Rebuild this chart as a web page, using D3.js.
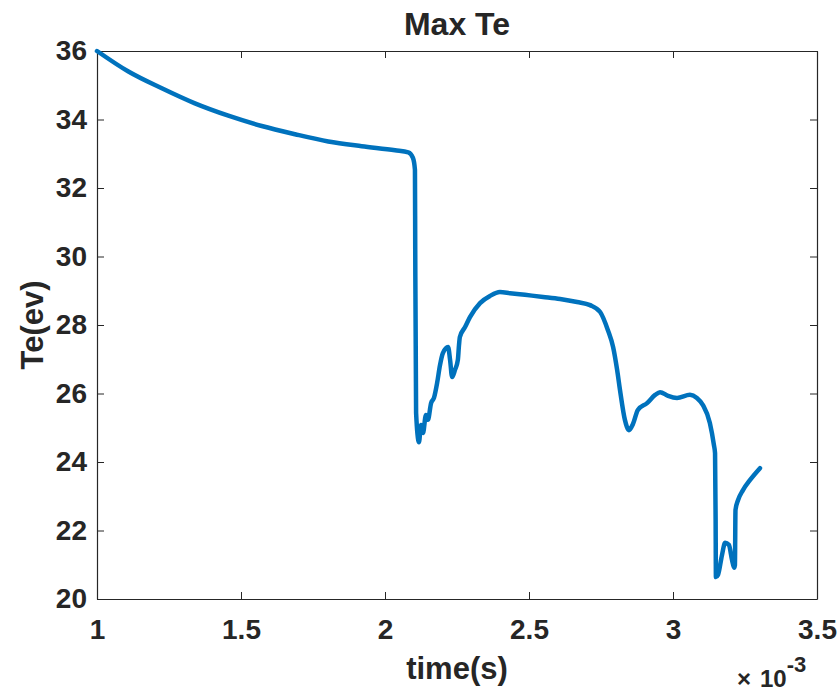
<!DOCTYPE html>
<head>
  <title>Max Te</title>
  <meta charset="utf-8">
  <script src="https://d3js.org/d3.v7.min.js"></script>
  <style>
    body { margin: 0; background: #fff; }
    text { font-family: "Liberation Sans", Arial, sans-serif; font-weight: bold; fill: #262626; }
    .axis path, .axis line { stroke: #262626; }
    .trace { fill: none; stroke: #0072BD; stroke-width: 4.5; stroke-linejoin: round; stroke-linecap: round; }
  </style>
</head>
<body>
  <div class="container"></div>
  <script>
'use strict';
var width = 838, height = 691;
var margin = { top: 51, right: 21, bottom: 92, left: 97 };

// time in units of 1e-3 s
var timeMs = [1.000, 1.109, 1.225, 1.340, 1.456, 1.572, 1.688, 1.803, 1.919, 2.035, 2.081,
  2.097, 2.104, 2.105, 2.108, 2.118, 2.125, 2.132, 2.142, 2.149, 2.160, 2.170, 2.181, 2.191,
  2.201, 2.219, 2.226, 2.233, 2.243, 2.253, 2.257, 2.260, 2.278, 2.295, 2.330, 2.365, 2.399,
  2.434, 2.486, 2.549, 2.608, 2.667, 2.712, 2.747, 2.774, 2.792, 2.806, 2.816, 2.833, 2.847,
  2.861, 2.878, 2.910, 2.938, 2.955, 2.983, 3.014, 3.059, 3.083, 3.104, 3.128, 3.142, 3.146,
  3.148, 3.149, 3.156, 3.170, 3.181, 3.194, 3.205, 3.212, 3.215, 3.217, 3.226, 3.243, 3.267, 3.302];
var teEv = [36.00, 35.40, 34.91, 34.47, 34.11, 33.81, 33.57, 33.36, 33.22, 33.10, 33.04,
  32.88, 32.53, 30.20, 25.43, 24.58, 25.08, 24.85, 25.37, 25.23, 25.72, 25.87, 26.31, 26.83,
  27.18, 27.36, 26.98, 26.48, 26.69, 26.98, 27.42, 27.65, 27.94, 28.23, 28.64, 28.85, 28.96,
  28.93, 28.88, 28.82, 28.76, 28.67, 28.58, 28.38, 27.85, 27.36, 26.69, 26.10, 25.23, 24.93,
  25.11, 25.52, 25.72, 25.96, 26.04, 25.93, 25.87, 25.96, 25.87, 25.66, 25.14, 24.50, 24.26,
  22.31, 20.64, 20.70, 21.28, 21.64, 21.58, 21.14, 20.91, 20.99, 22.60, 22.89, 23.18, 23.47, 23.82];

var xTicks = [1, 1.5, 2, 2.5, 3, 3.5];
var yTicks = [20, 22, 24, 26, 28, 30, 32, 34, 36];

var svg = d3.select('.container').append('svg')
  .attr('width', width).attr('height', height);

var x = d3.scaleLinear().domain([1, 3.5]).range([margin.left, width - margin.right]);
var y = d3.scaleLinear().domain([20, 36]).range([height - margin.bottom, margin.top]);

// axes, ticks pointing inward, box on
svg.append('g').attr('class', 'axis')
  .attr('transform', 'translate(0,' + y(20) + ')')
  .call(d3.axisBottom(x).tickValues(xTicks).tickFormat(d3.format('')).tickSizeInner(-7).tickSizeOuter(0).tickPadding(20))
  .call(function (g) { g.selectAll('text').style('font-size', '28px').attr('dy', '0.71em'); });

svg.append('g').attr('class', 'axis')
  .attr('transform', 'translate(0,' + y(36) + ')')
  .call(d3.axisTop(x).tickValues(xTicks).tickFormat('').tickSizeInner(-7).tickSizeOuter(0));

svg.append('g').attr('class', 'axis')
  .attr('transform', 'translate(' + x(1) + ',0)')
  .call(d3.axisLeft(y).tickValues(yTicks).tickSizeInner(-7).tickSizeOuter(0).tickPadding(10))
  .call(function (g) { g.selectAll('text').style('font-size', '28px'); });

svg.append('g').attr('class', 'axis')
  .attr('transform', 'translate(' + x(3.5) + ',0)')
  .call(d3.axisRight(y).tickValues(yTicks).tickFormat('').tickSizeInner(-7).tickSizeOuter(0));

svg.selectAll('.axis path').attr('stroke-width', 1.2);

var line = d3.line()
  .x(function (d, i) { return x(timeMs[i]); })
  .y(function (d) { return y(d); })
  .curve(d3.curveMonotoneX);
svg.append('path').datum(teEv).attr('class', 'trace').attr('d', line);

svg.append('text').attr('x', (x(1) + x(3.5)) / 2).attr('y', 35)
  .attr('text-anchor', 'middle').style('font-size', '32px').text('Max Te');

svg.append('text').attr('x', (x(1) + x(3.5)) / 2).attr('y', 679)
  .attr('text-anchor', 'middle').style('font-size', '31px').text('time(s)');

svg.append('text').attr('transform', 'translate(43,' + (y(20) + y(36)) / 2 + ') rotate(-90)')
  .attr('text-anchor', 'middle').style('font-size', '31px').text('Te(ev)');

var expo = svg.append('text').attr('x', 737).attr('y', 687).style('font-size', '24px');
expo.append('tspan').text('\u00d7');
expo.append('tspan').attr('x', 760).text('10');
expo.append('tspan').attr('dy', -15).style('font-size', '22px').text('-3');
  </script>
</body>
